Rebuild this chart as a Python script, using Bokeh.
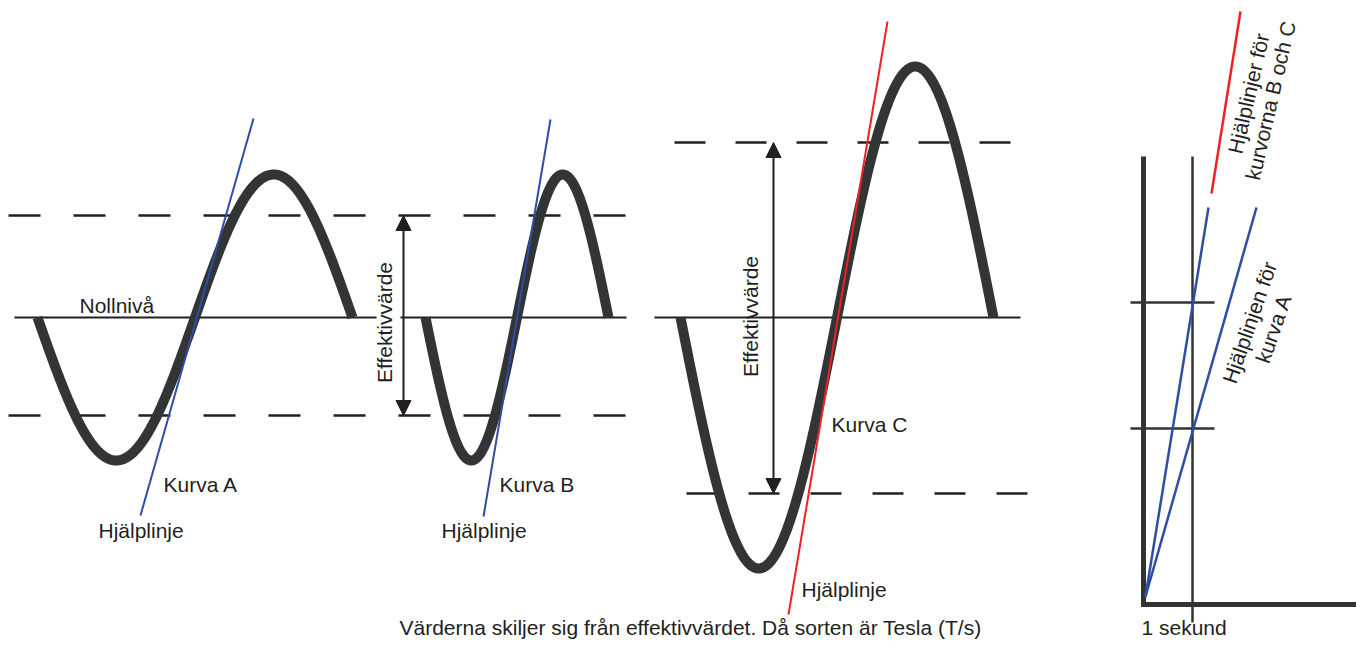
import numpy as np
from bokeh.plotting import figure
from bokeh.models import Range1d, Arrow, NormalHead
from bokeh.core.properties import value
from bokeh.embed import file_html
from bokeh.resources import INLINE

# ---------------- data (diagram units = picture pixels) ----------------
curve_names = ["Kurva A", "Kurva B", "Kurva C"]
curve_start = [37, 425, 680]
curve_period = [315, 183, 313]
curve_amp = [143, 143, 251]
zero_level = 317
zero_x0 = [14, 400, 654]
zero_x1 = [376, 626, 1020]

# effective-value (dashed) levels
rms_levels_ab = [215, 415]
rms_ab_span = [8, 631]
rms_c_top = 142
rms_c_top_span = [674, 1010]
rms_c_bot = 493
rms_c_bot_span = [686, 1027]

# arrows "Effektivvärde"
arrow_x = [403, 773]
arrow_top = [215, 142]
arrow_bot = [415, 493]

# helper lines (Hjälplinje): start / end points
help_x0 = [140, 483, 788]
help_y0 = [515, 516, 614]
help_x1 = [253, 550, 887]
help_y1 = [118, 119, 21]
help_colors = ["#2e4da3", "#2e4da3", "#ec2227"]

# right small graph
g_origin = (1143, 604)
g_top = 156
g_right = 1372
g_sec_x = 1192
g_sec_bottom = 622
g_ticks_y = [302, 428]
g_tick_span = [1130, 1214]
g_line_origin = (1145, 596)
g_blue_tops_x = [1208, 1256]
g_blue_top_y = 207
g_red = [(1211, 193), (1240, 11)]

# labels
label_text = ["Nollnivå", "Kurva A", "Hjälplinje", "Kurva B", "Hjälplinje",
              "Kurva C", "Hjälplinje", "1 sekund"]
label_x = [79, 163, 98, 499, 441, 831, 801, 1141]
label_y = [305, 484, 530, 484, 530, 424, 589, 627]

bottom_text = "Värderna skiljer sig från effektivvärdet. Då sorten är Tesla (T/s)"

eff_text = ["Effektivvärde", "Effektivvärde"]
eff_x = [384, 750]
eff_y = [322, 316]

rot_text = ["Hjälplinjer för", "kurvorna B och C", "Hjälplinjen för", "kurva A"]
rot_x = [1248, 1270, 1249, 1273]
rot_y = [93, 100, 322, 328]
rot_angle_deg = [77, 77, 71, 71]

# ---------------- figure ----------------
W, H = 1356, 643
p = figure(width=W, height=H, output_backend="svg", toolbar_location=None,
           x_range=Range1d(0, W), y_range=Range1d(H, 0),
           x_axis_type=None, y_axis_type=None, min_border=0)
p.outline_line_color = None
p.grid.visible = False
p.background_fill_color = "white"
p.border_fill_color = "white"

DARK = "#231f20"
CURVE = "#323436"
FONT = value("Liberation Sans")

# zero lines
p.segment(x0=zero_x0, y0=[zero_level] * 3, x1=zero_x1, y1=[zero_level] * 3,
          line_color=DARK, line_width=2)

# dashed levels
for lv in rms_levels_ab:
    p.line(x=rms_ab_span, y=[lv, lv], line_color=DARK, line_width=2.5,
           line_dash="32 33")
p.line(x=rms_c_top_span, y=[rms_c_top] * 2, line_color=DARK, line_width=2.5,
       line_dash="31 30")
p.line(x=rms_c_bot_span, y=[rms_c_bot] * 2, line_color=DARK, line_width=2.5,
       line_dash="31 31")

# sine curves
for s, per, amp in zip(curve_start, curve_period, curve_amp):
    t = np.linspace(0, 1, 300)
    xs = s + per * t
    ys = zero_level + amp * np.sin(2 * np.pi * t)
    p.line(x=xs, y=ys, line_color=CURVE, line_width=10, line_cap="butt",
           line_join="round")

# helper lines
p.segment(x0=help_x0, y0=help_y0, x1=help_x1, y1=help_y1,
          line_color=help_colors, line_width=2)

# arrows
for ax, at, ab in zip(arrow_x, arrow_top, arrow_bot):
    p.add_layout(Arrow(
        start=NormalHead(size=15, fill_color=DARK, line_color=DARK, line_width=1),
        end=NormalHead(size=15, fill_color=DARK, line_color=DARK, line_width=1),
        x_start=ax, y_start=ab, x_end=ax, y_end=at,
        line_color=DARK, line_width=2))

# right graph
ox, oy = g_origin
p.segment(x0=[ox, ox - 2.5], y0=[g_top, oy], x1=[ox, g_right], y1=[oy + 2.5, oy],
          line_color="#333333", line_width=5)
p.segment(x0=[g_sec_x], y0=[g_top], x1=[g_sec_x], y1=[g_sec_bottom],
          line_color="#333333", line_width=2.5)
p.segment(x0=[g_tick_span[0]] * 2, y0=g_ticks_y, x1=[g_tick_span[1]] * 2,
          y1=g_ticks_y, line_color="#333333", line_width=2.5)
lx, ly = g_line_origin
p.segment(x0=[lx, lx], y0=[ly, ly], x1=g_blue_tops_x, y1=[g_blue_top_y] * 2,
          line_color="#2e4da3", line_width=2.5)
p.segment(x0=[g_red[0][0]], y0=[g_red[0][1]], x1=[g_red[1][0]], y1=[g_red[1][1]],
          line_color="#ec2227", line_width=2.5)

# labels
p.text(x=label_x, y=label_y, text=label_text, text_font=FONT,
       text_font_size="21px", text_color=DARK, text_baseline="alphabetic",
       text_align="left")
p.text(x=[690], y=[627], text=[bottom_text], text_font=FONT,
       text_font_size="21px", text_color=DARK, text_baseline="alphabetic",
       text_align="center")
p.text(x=eff_x, y=eff_y, text=eff_text, angle=[np.pi / 2] * 2, text_font=FONT,
       text_font_size="21px", text_color=DARK, text_baseline="alphabetic",
       text_align="center")
p.text(x=rot_x, y=rot_y, text=rot_text,
       angle=[np.deg2rad(a) for a in rot_angle_deg], text_font=FONT,
       text_font_size="21px", text_color=DARK, text_baseline="middle",
       text_align="center")

open("out.html", "w").write(file_html(p, INLINE))
